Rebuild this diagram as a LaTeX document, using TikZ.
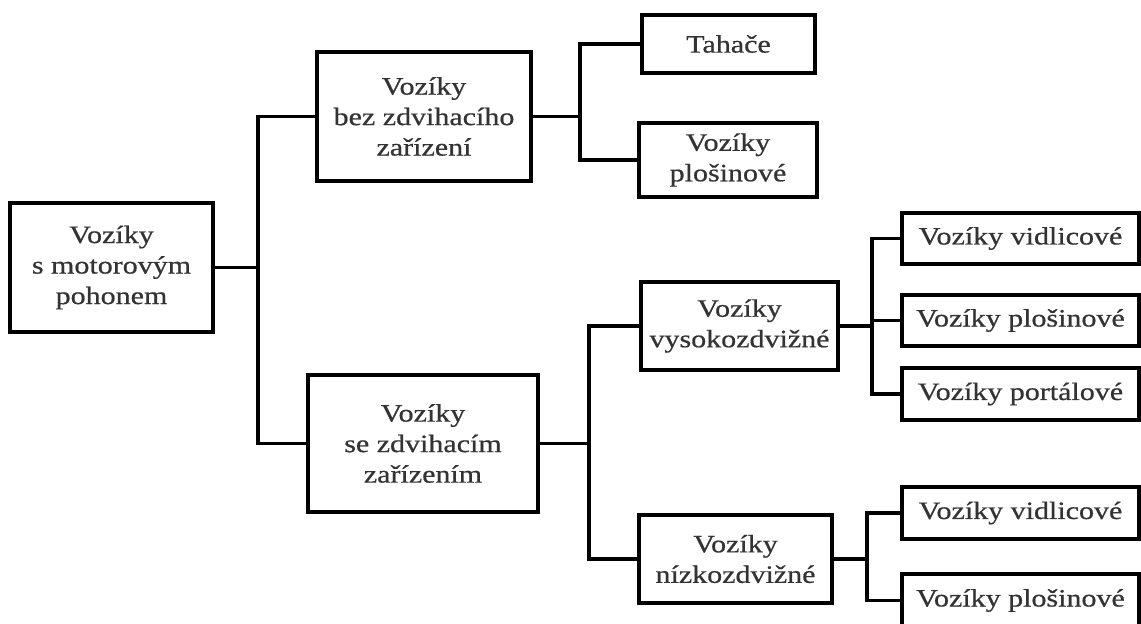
\documentclass[tikz,border=0pt]{standalone}
\usepackage{fontspec}
\setmainfont{Liberation Serif}[FakeStretch=1.2,FakeBold=0.6]
\begin{document}
\begin{tikzpicture}[x=1pt,y=-1pt,
  box/.style={draw=black, line width=3.5pt, fill=white, inner sep=0pt, align=center,
    font=\fontsize{25}{30.5}\selectfont, text=black!80},
  conn/.style={draw=black, line width=3.5pt, line join=miter}]
\clip (0,0) rectangle (1141,624);
\fill[white] (0,0) rectangle (1141,624);
% junction columns
\coordinate (j1) at (258,0);
\coordinate (j2) at (580,0);
\coordinate (j3) at (589,0);
\coordinate (j4) at (872,0);
\coordinate (j5) at (867,0);
% nodes
\node[box, minimum width=203pt, minimum height=129pt] (root) at (111.5,267.5) {Vozíky\\s motorovým\\pohonem};
\node[box, minimum width=214pt, minimum height=129pt] (bez) at (424,116.5) {Vozíky\\bez zdvihacího\\zařízení};
\node[box, minimum width=230pt, minimum height=137pt] (se) at (423,443.5) {Vozíky\\se zdvihacím\\zařízením};
\node[box, minimum width=173pt, minimum height=58pt] (tah) at (728.5,44) {Tahače};
\node[box, minimum width=178pt, minimum height=74pt] (plo) at (728,160) {Vozíky\\plošinové};
\node[box, minimum width=197pt, minimum height=88pt] (vys) at (739.5,326) {Vozíky\\vysokozdvižné};
\node[box, minimum width=193pt, minimum height=88pt] (niz) at (735.5,559) {Vozíky\\nízkozdvižné};
\node[box, minimum width=237pt, minimum height=51pt] (l1) at (1020.5,238.5) {Vozíky vidlicové};
\node[box, minimum width=237pt, minimum height=51pt] (l2) at (1020.5,320.5) {Vozíky plošinové};
\node[box, minimum width=237pt, minimum height=52pt] (l3) at (1020.5,394) {Vozíky portálové};
\node[box, minimum width=237pt, minimum height=52pt] (l4) at (1020.5,513) {Vozíky vidlicové};
\node[box, minimum width=237pt, minimum height=53pt] (l5) at (1020.5,600.5) {Vozíky plošinové};
% connectors
\draw[conn] (root.east) -- (root.east -| j1);
\draw[conn] (bez.west) -| (j1 |- se.west) -- (se.west);
\draw[conn] (bez.east) -- (bez.east -| j2);
\draw[conn] (tah.west) -| (j2 |- plo.west) -- (plo.west);
\draw[conn] (se.east) -- (se.east -| j3);
\draw[conn] (vys.west) -| (j3 |- niz.west) -- (niz.west);
\draw[conn] (vys.east) -- (vys.east -| j4);
\draw[conn] (l1.west) -| (j4 |- l3.west) -- (l3.west);
\draw[conn] (l2.west) -- (l2.west -| j4);
\draw[conn] (niz.east) -- (niz.east -| j5);
\draw[conn] (l4.west) -| (j5 |- l5.west) -- (l5.west);
\end{tikzpicture}
\end{document}
